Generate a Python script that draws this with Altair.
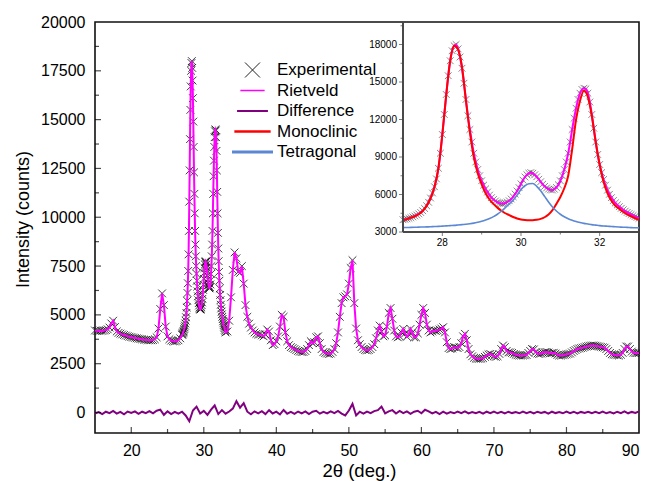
import altair as alt
import pandas as pd

FONT = "Liberation Sans"

# ---- observed / refined pattern, read from the picture ----
# 15.00 .. 26.75, step 0.25
OBS_LOW = [
    4200, 4180, 4170, 4190,   # 15
    4180, 4200, 4220, 4260,   # 16
    4350, 4560, 4700, 4380,   # 17
    4150, 4080, 4040, 4000,   # 18
    3970, 3940, 3910, 3880,   # 19
    3860, 3840, 3820, 3800,   # 20
    3780, 3760, 3750, 3730,   # 21
    3720, 3710, 3700, 3700,   # 22
    3710, 3750, 3850, 4300,   # 23
    5300, 6100, 5500, 4400,   # 24
    3900, 3750, 3680, 3650,   # 25
    3640, 3660, 3700, 3800,   # 26
]
# 27.00 .. 33.00, step 0.05 (also shown in the inset)
OBS_ZOOM = [
    3980, 4010, 4050, 4100, 4150, 4210, 4280, 4360, 4450, 4560,          # 27.0
    4700, 4880, 5100, 5380, 5720, 6120, 6620, 7250, 8100, 9300,          # 27.5
    10800, 12400, 14000, 15500, 16700, 17500, 17900, 18000, 17650, 17000,  # 28.0
    16100, 14900, 13600, 12300, 11200, 10200, 9300, 8600, 8000, 7500,   # 28.5
    7100, 6750, 6450, 6200, 5950, 5750, 5600, 5480, 5380, 5310,          # 29.0
    5280, 5280, 5320, 5400, 5500, 5640, 5820, 6040, 6280, 6550,          # 29.5
    6850, 7150, 7400, 7580, 7700, 7750, 7700, 7580, 7420, 7220,          # 30.0
    7020, 6820, 6650, 6520, 6430, 6370, 6360, 6420, 6560, 6780,          # 30.5
    7100, 7500, 8000, 8600, 9300, 10200, 11200, 12100, 12900, 13600,     # 31.0
    14100, 14400, 14500, 14450, 14100, 13400, 12400, 11300, 10200, 9200,  # 31.5
    8400, 7750, 7200, 6750, 6350, 6020, 5750, 5520, 5330, 5170,          # 32.0
    5030, 4900, 4780, 4670, 4570, 4480, 4400, 4320, 4240, 4170,          # 32.5
    4100,                                                                  # 33.0
]
# 33.25 .. 90.00, step 0.25
OBS_HIGH = [
    4150, 4700, 5900,         # 33.25
    7300, 8200, 7900, 7200,   # 34
    7150, 7500, 6600, 5500,   # 35
    4900, 4550, 4350, 4200,   # 36
    4100, 4030, 4000, 4000,   # 37
    3950, 3900, 4000, 4250,   # 38
    4150, 3700, 3450, 3500,   # 39
    3650, 3900, 4400, 5000,   # 40
    4900, 4100, 3650, 3450,   # 41
    3350, 3300, 3250, 3200,   # 42
    3150, 3120, 3100, 3100,   # 43
    3150, 3250, 3450, 3650,   # 44
    3550, 3600, 3850, 3900,   # 45
    3550, 3250, 3100, 3050,   # 46
    3020, 3000, 3020, 3100,   # 47
    3250, 3550, 4100, 4900,   # 48
    5600, 5900, 5950, 6050,   # 49
    6600, 7400, 7800, 5600,   # 50
    4300, 3700, 3500, 3350,   # 51
    3250, 3200, 3180, 3200,   # 52
    3250, 3350, 3500, 3800,   # 53
    4200, 4450, 4150, 3900,   # 54
    3950, 4400, 5100, 5350,   # 55
    4800, 4200, 3900, 3850,   # 56
    3900, 4100, 4280, 4050,   # 57
    3880, 4000, 4280, 4100,   # 58
    3850, 3850, 4050, 4500,   # 59
    5000, 5350, 5100, 4500,   # 60
    4200, 4100, 4150, 4200,   # 61
    4180, 4200, 4250, 4300,   # 62
    4370, 4100, 3600, 3300,   # 63
    3250, 3280, 3350, 3330,   # 64
    3300, 3350, 3550, 3900,   # 65
    4030, 3700, 3250, 2980,   # 66
    2880, 2800, 2760, 2750,   # 67
    2750, 2760, 2780, 2850,   # 68
    2920, 2980, 3000, 2950,   # 69
    2880, 2850, 2880, 3000,   # 70
    3250, 3430, 3350, 3150,   # 71
    3080, 3080, 3050, 3000,   # 72
    2960, 2930, 2920, 2920,   # 73
    2920, 2930, 2950, 3050,   # 74
    3150, 3250, 3230, 3100,   # 75
    3020, 3000, 3020, 3060,   # 76
    3090, 3100, 3070, 3030,   # 77
    3040, 3060, 3020, 2950,   # 78
    2920, 2920, 2930, 2950,   # 79
    2980, 3000, 3020, 3080,   # 80
    3150, 3200, 3250, 3280,   # 81
    3300, 3320, 3350, 3380,   # 82
    3400, 3420, 3430, 3430,   # 83
    3420, 3400, 3380, 3360,   # 84
    3340, 3320, 3250, 3150,   # 85
    3050, 2980, 2960, 2950,   # 86
    2930, 2920, 2960, 3050,   # 87
    3250, 3380, 3380, 3250,   # 88
    3120, 3060, 3040, 3040,   # 89
    3050,                     # 90
]
# difference curve, 15.0 .. 90.0, step 0.5
DIFF = [
    -50, 20, -80, 40, -30, 80, -60, 30, -90, 50,        # 15
    -20, 60, -70, 40, -30, 70, -40, 90, 150, -120,      # 20
    60, -80, 30, -60, 40, -150, -450, 100, 300, -50,    # 25
    80, -120, 150, 360, -80, 120, -60, 50, 200, 580,    # 30
    250, 480, 40, -90, 60, -40, 70, -80, 120, -50,      # 35
    40, -100, 130, -60, 30, -70, 50, -40, 60, -80,      # 40
    40, 90, -60, 30, -50, 60, -30, 80, -60, -150,       # 45
    100, 440, -150, 40, -60, 50, -30, 70, 120, 300,     # 50
    -40, 60, 120, -50, 80, -30, 60, -70, 40, 90,        # 55
    -40, 140, 60, -50, 30, -80, 40, -60, 20, -40,       # 60
    50, -30, 60, -50, 20, -40, 30, -60, 40, -30,        # 65
    50, -40, 30, -50, 40, -30, 20, -40, 50, -30,        # 70
    30, -50, 40, -20, 30, -60, 40, -30, 20, -40,        # 75
    50, -30, 40, -50, 30, -20, 40, -40, 30, -30,        # 80
    50, -40, 20, -50, 40, -30, 60, -40, 30, -20,        # 85
    60,                                                  # 90
]
# inset phase contributions, 27.0 .. 33.0, step 0.1
MONO = [
    3940, 4030, 4150, 4260, 4420, 4680, 5090, 5700, 6600, 8100,
    10800, 14000, 16700, 17900, 17600, 16200, 13500, 11000, 9000, 7700,
    6800, 6100, 5600, 5250, 4950, 4700, 4500, 4350, 4200, 4080,
    4000, 3960, 3940, 3940, 3980, 4050, 4180, 4400, 4750, 5250,
    5800, 6500, 7500, 9600, 12000, 13500, 14300, 13800, 12300, 10200,
    8400, 7000, 6100, 5500, 5100, 4850, 4600, 4400, 4250, 4100,
    3950,
]
TETRA = [
    3350, 3360, 3370, 3380, 3390, 3400, 3410, 3420, 3440, 3450,
    3470, 3490, 3510, 3530, 3560, 3590, 3620, 3660, 3710, 3780,
    3860, 3960, 4080, 4230, 4420, 4660, 4950, 5250, 5550, 5950,
    6400, 6700, 6860, 6880, 6650, 6300, 5850, 5400, 5000, 4680,
    4420, 4220, 4060, 3940, 3840, 3760, 3690, 3640, 3590, 3550,
    3510, 3480, 3460, 3440, 3420, 3400, 3380, 3370, 3350, 3340,
    3330,
]

SERIES = ["Experimental", "Rietveld", "Difference", "Monoclinic", "Tetragonal"]
SERIES_COLORS = ["#222222", "#ff00ff", "#800080", "#ff0000", "#5b87d4"]
XPATH = "M-1,-1L1,1M-1,1L1,-1"
SERIES_SHAPES = [XPATH, "stroke", "stroke", "stroke", "stroke"]
SERIES_SIZES = [225, 1681, 1681, 1681, 1681]
SERIES_WIDTHS = [1, 3, 3, 3, 3]

MAIN_X_LABELS = [20, 30, 40, 50, 60, 70, 80, 90]
MAIN_X_MAJOR = [20, 30, 40, 50, 60, 70, 80]
MAIN_X_MINOR = [25, 35, 45, 55, 65, 75, 85]
MAIN_Y_LABELS = [0, 2500, 5000, 7500, 10000, 12500, 15000, 17500, 20000]
MAIN_Y_MAJOR = [0, 2500, 5000, 7500, 10000, 12500, 15000, 17500]
MAIN_Y_MINOR = [1250, 3750, 6250, 8750, 11250, 13750, 16250, 18750]

INSET_X_MAJOR = [28, 30, 32]
INSET_X_LABELS = ["28", "30", "32"]
INSET_X_MINOR = [29, 31]
INSET_Y_MAJOR = [3000, 6000, 9000, 12000, 15000, 18000]
INSET_Y_LABELS = ["3000", "6000", "9000", "12000", "15000", "18000"]
INSET_Y_MINOR = [4500, 7500, 10500, 13500, 16500, 19500]
INSET_X_DOMAIN = [27, 33]
INSET_Y_DOMAIN = [3000, 19800]

W, H = 544, 411
INSET_LEFT, INSET_BOTTOM = 308, 210
X_DOMAIN = [15, 90]
Y_DOMAIN = [-1050, 20000]


def grid(start, step, n):
    return [round(start + i * step, 3) for i in range(n)]


tt = grid(15, 0.25, len(OBS_LOW)) + grid(27, 0.05, len(OBS_ZOOM)) + grid(33.25, 0.25, len(OBS_HIGH))
main_df = pd.DataFrame({"tt": tt, "I": OBS_LOW + OBS_ZOOM + OBS_HIGH})
diff_df = pd.DataFrame({"tt": grid(15, 0.5, len(DIFF)), "I": DIFF})
zoom_df = pd.DataFrame({"tt": grid(27, 0.05, len(OBS_ZOOM)), "I": OBS_ZOOM})
phase_df = pd.DataFrame({"tt": grid(27, 0.1, len(MONO)), "mono": MONO, "tetra": TETRA})
legend_df = pd.DataFrame({"series": SERIES})

xs = alt.Scale(domain=X_DOMAIN, nice=False, zero=False)
ys = alt.Scale(domain=Y_DOMAIN, nice=False, zero=False)

x_lab_axis = alt.Axis(orient="bottom", values=MAIN_X_LABELS, ticks=False, domain=False,
                      labelPadding=9, labelFontSize=16, format="d", grid=False, labelFlush=True,
                      titleFontSize=18.5, titlePadding=3, titleX=264)
y_lab_axis = alt.Axis(orient="left", values=MAIN_Y_LABELS, ticks=False, domain=False,
                      labelPadding=10, labelFontSize=16, format="d", grid=False,
                      titleFontSize=18, titlePadding=8, titleY=197)

exp_main = alt.Chart(main_df).mark_point(
    shape=XPATH, size=60, strokeWidth=0.9, color="#111111", opacity=0.9, filled=False
).encode(
    x=alt.X("tt:Q", scale=xs, axis=x_lab_axis, title="2θ (deg.)"),
    y=alt.Y("I:Q", scale=ys, axis=y_lab_axis, title="Intensity (counts)"),
)
riet_main = alt.Chart(main_df).mark_line(color="#ff00ff", strokeWidth=2).encode(
    x=alt.X("tt:Q", axis=None), y=alt.Y("I:Q", axis=None))
diff_main = alt.Chart(diff_df).mark_line(color="#800080", strokeWidth=2).encode(
    x=alt.X("tt:Q", axis=None), y=alt.Y("I:Q", axis=None))


def inward_x_ticks(values, length):
    return alt.Chart(pd.DataFrame({"v": values})).mark_tick(
        orient="vertical", clip=True, size=length, thickness=1.2, color="#000000"
    ).encode(x=alt.X("v:Q", axis=None), y=alt.YDatum(Y_DOMAIN[0], axis=None))


def inward_y_ticks(values, length):
    return alt.Chart(pd.DataFrame({"v": values})).mark_tick(
        orient="horizontal", clip=True, size=length, thickness=1.2, color="#000000"
    ).encode(y=alt.Y("v:Q", axis=None), x=alt.XDatum(X_DOMAIN[0], axis=None))


legend_layer = alt.Chart(legend_df).mark_point(clip=True, filled=False, opacity=1).encode(
    x=alt.XDatum(0, axis=None),
    y=alt.YDatum(-5000, axis=None),
    color=alt.Color("series:N", scale=alt.Scale(domain=SERIES, range=SERIES_COLORS),
                    legend=alt.Legend(title=None)),
    shape=alt.Shape("series:N", scale=alt.Scale(domain=SERIES, range=SERIES_SHAPES),
                    legend=alt.Legend(title=None)),
    size=alt.Size("series:N", scale=alt.Scale(domain=SERIES, range=SERIES_SIZES),
                  legend=alt.Legend(title=None)),
    strokeWidth=alt.StrokeWidth("series:N", scale=alt.Scale(domain=SERIES, range=SERIES_WIDTHS),
                                legend=alt.Legend(title=None)),
)
main_group = alt.layer(
    exp_main, riet_main, diff_main,
    inward_x_ticks(MAIN_X_MAJOR, 12), inward_x_ticks(MAIN_X_MINOR, 8),
    inward_y_ticks(MAIN_Y_MAJOR, 12), inward_y_ticks(MAIN_Y_MINOR, 8),
    legend_layer,
).resolve_axis(x="independent", y="independent")

# ---- inset ----
ixs = alt.Scale(domain=INSET_X_DOMAIN, range=[INSET_LEFT, W], nice=False, zero=False)
iys = alt.Scale(domain=INSET_Y_DOMAIN, range=[INSET_BOTTOM, 0], nice=False, zero=False)
AX_COLOR = "#444444"

exp_in = alt.Chart(zoom_df).mark_point(
    shape=XPATH, size=45, strokeWidth=0.8, color="#333333", opacity=0.75, filled=False
).encode(
    x=alt.X("tt:Q", scale=ixs, axis=None),
    y=alt.Y("I:Q", scale=iys, axis=None),
)
riet_in = alt.Chart(zoom_df).mark_line(color="#ff00ff", strokeWidth=2, interpolate="monotone").encode(
    x=alt.X("tt:Q", axis=None), y=alt.Y("I:Q", axis=None))
mono_in = alt.Chart(phase_df).mark_line(color="#ff0000", strokeWidth=2, interpolate="monotone").encode(
    x=alt.X("tt:Q", axis=None), y=alt.Y("mono:Q", axis=None))
tetra_in = alt.Chart(phase_df).mark_line(color="#5b87d4", strokeWidth=1.6, interpolate="monotone").encode(
    x=alt.X("tt:Q", axis=None), y=alt.Y("tetra:Q", axis=None))

ix_line = alt.Chart(legend_df).mark_rule(color=AX_COLOR, strokeWidth=1).encode(
    x=alt.XDatum(INSET_X_DOMAIN[0], axis=None), x2=alt.X2Datum(INSET_X_DOMAIN[1]),
    y=alt.YDatum(INSET_Y_DOMAIN[0], axis=None))
iy_line = alt.Chart(legend_df).mark_rule(color=AX_COLOR, strokeWidth=1).encode(
    x=alt.XDatum(INSET_X_DOMAIN[0], axis=None),
    y=alt.YDatum(INSET_Y_DOMAIN[0], axis=None), y2=alt.Y2Datum(INSET_Y_DOMAIN[1]))


def inset_x_ticks(values, length):
    return alt.Chart(pd.DataFrame({"v": values})).mark_tick(
        orient="vertical", size=length, thickness=1, color=AX_COLOR, yOffset=length / 2
    ).encode(x=alt.X("v:Q", axis=None), y=alt.YDatum(INSET_Y_DOMAIN[0], axis=None))


def inset_y_ticks(values, length):
    return alt.Chart(pd.DataFrame({"v": values})).mark_tick(
        orient="horizontal", size=length, thickness=1, color=AX_COLOR, xOffset=-length / 2
    ).encode(y=alt.Y("v:Q", axis=None), x=alt.XDatum(INSET_X_DOMAIN[0], axis=None))


ix_labels = alt.Chart(pd.DataFrame({"v": INSET_X_MAJOR, "t": INSET_X_LABELS})).mark_text(
    baseline="top", dy=6, fontSize=10, font=FONT, color="#000000"
).encode(x=alt.X("v:Q", axis=None), y=alt.YDatum(INSET_Y_DOMAIN[0], axis=None), text="t:N")
iy_labels = alt.Chart(pd.DataFrame({"v": INSET_Y_MAJOR, "t": INSET_Y_LABELS})).mark_text(
    align="right", baseline="middle", dx=-6, fontSize=10, font=FONT, color="#000000"
).encode(y=alt.Y("v:Q", axis=None), x=alt.XDatum(INSET_X_DOMAIN[0], axis=None), text="t:N")

inset_group = alt.layer(
    exp_in, riet_in, mono_in, tetra_in,
    ix_line, iy_line,
    inset_x_ticks(INSET_X_MAJOR, 4), inset_x_ticks(INSET_X_MINOR, 2.5),
    inset_y_ticks(INSET_Y_MAJOR, 4), inset_y_ticks(INSET_Y_MINOR, 2.5),
    ix_labels, iy_labels,
)

chart = alt.layer(main_group, inset_group).resolve_scale(
    x="independent", y="independent"
).resolve_axis(
    x="independent", y="independent"
).properties(
    width=W, height=H,
    autosize=alt.AutoSizeParams(type="none"),
    padding={"left": 87, "top": 14, "right": 1, "bottom": 50},
    background="white",
).configure_view(
    stroke="#111111", strokeWidth=1.6
).configure_axis(
    labelFont=FONT, titleFont=FONT, labelColor="#000000", titleColor="#000000",
    titleFontWeight="normal"
).configure_legend(
    orient="none", legendX=135.5, legendY=39, padding=0, labelFont=FONT, labelFontSize=17,
    labelColor="#000000", labelOffset=2.5, rowPadding=2.5, symbolOffset=0, clipHeight=18
)

chart.save("out.html", embed_options={"renderer": "svg", "actions": False})
